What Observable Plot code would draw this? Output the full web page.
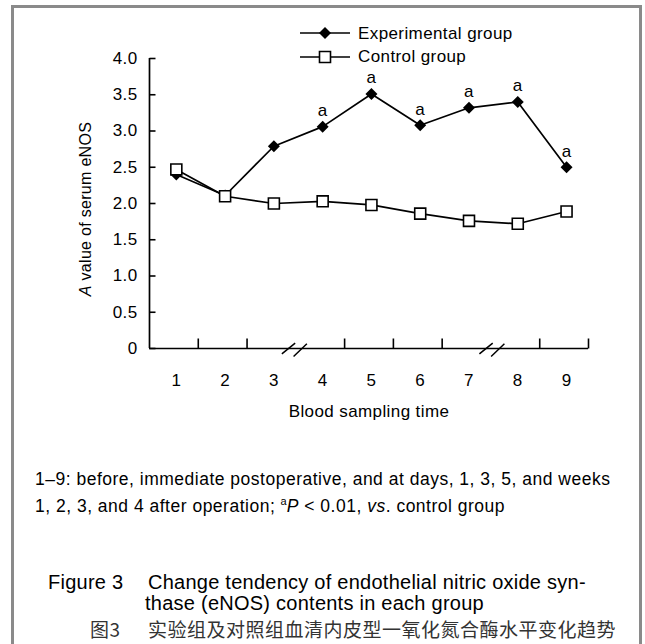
<!DOCTYPE html>
<html>
<head>
<meta charset="utf-8">
<script src="https://cdn.jsdelivr.net/npm/d3@7"></script>
<script src="https://cdn.jsdelivr.net/npm/@observablehq/plot@0.6"></script>
<style>
  body { margin: 0; background: #fff; }
  #wrap { position: relative; width: 645px; height: 644px; overflow: hidden; background: #fff;
          font-family: "Liberation Sans", Arial, Helvetica, sans-serif; color: #000; }
  #frame { position: absolute; left: 11px; top: 5px; width: 631px; height: 700px;
           border: 3px solid #8a8a8a; box-sizing: border-box; }
  #chart { position: absolute; left: 0; top: 0; }
  .abs { position: absolute; white-space: nowrap; }
  .leg { font-size: 17px; letter-spacing: 0.4px; line-height: 20px; }
  .cap { font-size: 17.5px; letter-spacing: 0.5px; line-height: 20px; }
  .fig { font-size: 20px; letter-spacing: 0.25px; line-height: 20px; }
  .zh { font-family: "Noto Sans CJK SC", sans-serif; font-size: 19px; letter-spacing: 0.5px; line-height: 20px; color: #333; }
  #ytitle { font-size: 16px; letter-spacing: 0.3px; line-height: 20px; width: 240px; text-align: center;
            transform: rotate(-90deg); }
</style>
</head>
<body>
<div id="wrap">
  <div id="frame"></div>
  <div id="chart"></div>
  <svg class="abs" id="legendSvg" style="left:0;top:0" width="645" height="80"></svg>
  <div class="abs leg" style="left:358px;top:24px">Experimental group</div>
  <div class="abs leg" style="left:358px;top:47px">Control group</div>
  <div class="abs" id="ytitle" style="left:-34px;top:199px"><i>A</i> value of serum eNOS</div>

  <div class="abs cap" style="left:35px;top:469px">1–9: before, immediate postoperative, and at days, 1, 3, 5, and weeks</div>
  <div class="abs cap" style="left:35px;top:496px">1, 2, 3, and 4 after operation; <span style="font-size:11px;position:relative;top:-7px;letter-spacing:0">a</span><i>P</i> &lt; 0.01, <i>vs</i>. control group</div>

  <div class="abs fig" style="left:48px;top:572px">Figure 3</div>
  <div class="abs fig" style="left:148px;top:572px">Change tendency of endothelial nitric oxide syn-</div>
  <div class="abs fig" style="left:145px;top:593px">thase (eNOS) contents in each group</div>
  <div class="abs zh" style="left:90px;top:619px">图3</div>
  <div class="abs zh" style="left:148px;top:619px">实验组及对照组血清内皮型一氧化氮合酶水平变化趋势</div>
</div>
<script>
// ---- data ----
const times = [1, 2, 3, 4, 5, 6, 7, 8, 9];
const timeLabels = ["1", "2", "3", "4", "5", "6", "7", "8", "9"];
const experimental = [2.40, 2.11, 2.79, 3.06, 3.51, 3.08, 3.32, 3.40, 2.50];
const control = [2.47, 2.10, 2.00, 2.03, 1.98, 1.86, 1.76, 1.72, 1.89];
const significance = ["", "", "", "a", "a", "a", "a", "a", "a"];
const yTicks = [0, 0.5, 1, 1.5, 2, 2.5, 3, 3.5, 4];
const yTickLabels = ["0", "0.5", "1.0", "1.5", "2.0", "2.5", "3.0", "3.5", "4.0"];
const xDomain = [0.45, 9.45];
const yDomain = [0, 4];
const xTickMarks = [1.45, 2.45, 4.45, 5.45, 6.45, 8.45, 9.45];
const axisBreaks = [3.42, 7.47];
const seriesNames = ["Experimental group", "Control group"];
const xTitle = "Blood sampling time";

const rows = times.map((t, i) => ({time: t, exp: experimental[i], ctrl: control[i], sig: significance[i]}));

// custom symbols for inward ticks and axis breaks
const tickRight = {draw(ctx) { ctx.moveTo(0, 0); ctx.lineTo(6, 0); }};
const tickUp = {draw(ctx) { ctx.moveTo(0, 0); ctx.lineTo(0, -10); }};
const breakMark = {draw(ctx) {
  ctx.moveTo(-12.5, 5.3); ctx.lineTo(0.8, -5.3);
  ctx.moveTo(-0.8, 8); ctx.lineTo(12.5, -4.7);
}};

const chart = Plot.plot({
  width: 645,
  height: 430,
  marginLeft: 149,
  marginRight: 57,
  marginTop: 58,
  marginBottom: 82,
  style: {fontFamily: '"Liberation Sans", Arial, Helvetica, sans-serif', fontSize: "17px",
          background: "transparent", color: "#000", letterSpacing: "0.4px", overflow: "visible"},
  x: {domain: xDomain},
  y: {domain: yDomain},
  marks: [
    Plot.axisY(yTicks, {tickSize: 0, tickPadding: 12, label: null, fontSize: 17,
      tickFormat: (d) => yTickLabels[yTicks.indexOf(d)]}),
    Plot.axisX(times, {tickSize: 0, tickPadding: 25, label: null, fontSize: 17,
      tickFormat: (d) => timeLabels[times.indexOf(d)]}),
    Plot.ruleX([xDomain[0]], {stroke: "#000", strokeWidth: 1.7}),
    Plot.ruleY([yDomain[0]], {stroke: "#000", strokeWidth: 1.7}),
    Plot.dot(yTicks, {x: () => xDomain[0], y: (d) => d, symbol: tickRight, fill: "none", stroke: "#000", strokeWidth: 1.6}),
    Plot.dot(xTickMarks, {x: (d) => d, y: () => yDomain[0], symbol: tickUp, fill: "none", stroke: "#000", strokeWidth: 1.6}),
    Plot.dot(axisBreaks, {x: (d) => d, y: () => yDomain[0], symbol: breakMark, fill: "none", stroke: "#000", strokeWidth: 1.5}),
    Plot.text([xTitle], {frameAnchor: "bottom", dy: 63, lineAnchor: "middle", fontSize: 17}),
    // experimental group
    Plot.line(rows, {x: "time", y: "exp", stroke: "#000", strokeWidth: 1.7}),
    Plot.dot(rows, {x: "time", y: "exp", symbol: "diamond2", r: 5.4, fill: "#000", stroke: "none"}),
    Plot.text(rows, {x: "time", y: "exp", text: "sig", dy: -16, fontSize: 17}),
    // control group
    Plot.line(rows, {x: "time", y: "ctrl", stroke: "#000", strokeWidth: 1.7}),
    Plot.dot(rows, {x: "time", y: "ctrl", symbol: "square", r: 6.2, fill: "#fff", stroke: "#000", strokeWidth: 1.6})
  ]
});
document.getElementById("chart").appendChild(chart);

// legend swatches
const lg = d3.select("#legendSvg");
const legendRows = [
  {name: seriesNames[0], y: 33, symbol: d3.symbolDiamond2, size: 92, fill: "#000"},
  {name: seriesNames[1], y: 57, symbol: d3.symbolSquare, size: 121, fill: "#fff"}
];
legendRows.forEach((r) => {
  lg.append("line").attr("x1", 300).attr("x2", 350).attr("y1", r.y).attr("y2", r.y)
    .attr("stroke", "#000").attr("stroke-width", 1.7);
  lg.append("path").attr("d", d3.symbol(r.symbol, r.size)())
    .attr("transform", `translate(325,${r.y})`)
    .attr("fill", r.fill).attr("stroke", r.fill === "#000" ? "none" : "#000").attr("stroke-width", 1.6);
});
</script>
</body>
</html>
